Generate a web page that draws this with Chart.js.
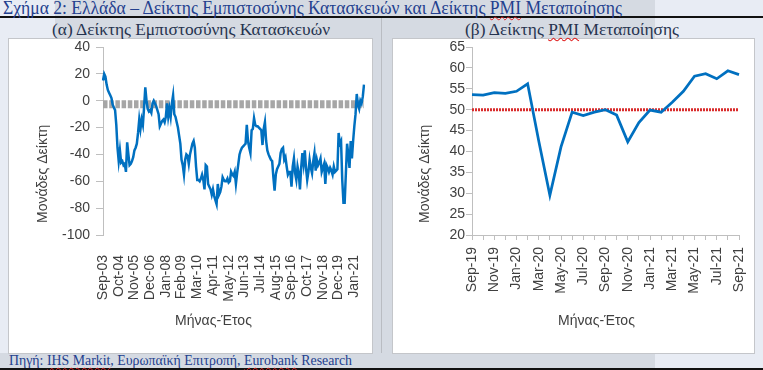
<!DOCTYPE html>
<html><head><meta charset="utf-8">
<script src="https://cdn.jsdelivr.net/npm/chart.js@4.4.1/dist/chart.umd.min.js"></script>
<style>
html,body{margin:0;padding:0;background:#e8ecf4;}
#page{position:relative;width:763px;height:370px;overflow:hidden;background:#e8ecf4;}
.abs{position:absolute;}
.txt{position:absolute;white-space:nowrap;transform-origin:0 0;font-family:'Liberation Serif','Times New Roman',serif;}
.sq{text-decoration:underline wavy #e02020;text-decoration-thickness:1px;text-underline-offset:2px;}
canvas{position:absolute;}
</style></head>
<body><div id="page">
  <div class="abs" style="left:55px;top:0;width:600px;height:38px;background:#d5dae2"></div>
  <div class="abs" style="left:0;top:353px;width:655px;height:15px;background:#d5dae2"></div>
  <div class="abs" style="left:0;top:16px;width:763px;height:2px;background:#111"></div>
  <div class="abs" style="left:0;top:368px;width:763px;height:2px;background:#111"></div>
  <div class="abs" style="left:372px;top:38px;width:20px;height:315px;background:#d5dae2"></div>
  <div class="abs" style="left:381px;top:18px;width:1px;height:335px;background:#b9bcc2"></div>
  <div class="abs" style="left:8px;top:38px;width:363px;height:314px;background:#fff;border:1px solid #c4c6ca"></div>
  <div class="abs" style="left:392px;top:38px;width:361px;height:314px;background:#fff;border:1px solid #c4c6ca"></div>

  <div class="txt" data-w="619" style="left:3px;top:-1px;font-size:18px;line-height:18px;color:#23408e">Σχήμα 2: Ελλάδα – Δείκτης Εμπιστοσύνης Κατασκευών και Δείκτης <span class="sq">PMI</span> Μεταποίησης</div>
  <div class="txt" data-w="278" style="left:52px;top:21px;font-size:17px;line-height:17px;color:#26334f">(α) Δείκτης Εμπιστοσύνης Κατασκευών</div>
  <div class="txt" data-w="214" style="left:465px;top:21px;font-size:17px;line-height:17px;color:#26334f">(β) Δείκτης <span class="sq">PMI</span> Μεταποίησης</div>
  <div class="txt" data-w="343" style="left:9px;top:353px;font-size:15px;line-height:15px;color:#23408e">Πηγή: <span class="sq">IHS Markit</span>, Ευρωπαϊκή Επιτροπή, <span class="sq">Eurobank</span> Research</div>

  <canvas id="c1" width="362" height="312" style="left:9px;top:40px"></canvas>
  <canvas id="c2" width="360" height="312" style="left:393px;top:40px"></canvas>
</div>
<script>
// ---------- data ----------
const MONTHS = ['Jan','Feb','Mar','Apr','May','Jun','Jul','Aug','Sep','Oct','Nov','Dec'];
function monthRange(y0, m0, y1, m1) {
  const out = [];
  let y = y0, m = m0;
  while (y < y1 || (y === y1 && m <= m1)) {
    out.push(MONTHS[m] + '-' + String(y % 100).padStart(2, '0'));
    m++; if (m > 11) { m = 0; y++; }
  }
  return out;
}

// (α) Construction confidence indicator, Sep-03 .. Sep-21 (monthly)
const consMonths = monthRange(2003, 8, 2021, 8);
const consValues = [
  15, 20, 18, 12, 8, 6, 4, 2, -3, -5,
  -7, -18, -35, -45, -37, -46, -45, -48, -47, -53,
  -31, -40, -48, -47, -45, -42, -37, -35, -32, -24,
  -14, -21, -14, -18, -5, 10, 0, -6, -8, -7,
  -9, -2, 0, -2, -4, -7, -10, -19, -17, -15,
  -14, -16, -12, -2, -12, -6, -12, -2, 4, -10,
  -12, -16, -20, -26, -32, -44, -48, -55, -44, -40,
  -41, -47, -40, -36, -32, -30, -35, -49, -59, -59,
  -60, -58, -55, -59, -66, -48, -49, -62, -64, -66,
  -70, -66, -71, -74, -77, -62, -70, -68, -64, -57,
  -59, -60, -60, -58, -61, -60, -53, -55, -56, -53,
  -62, -54, -47, -40, -37, -35, -34, -33, -32, -18,
  -30, -35, -39, -22, -21, -13, -18, -19, -19, -20,
  -21, -22, -33, -21, -16, -30, -37, -40, -42, -44,
  -45, -57, -67, -55, -51, -49, -47, -39, -36, -35,
  -44, -42, -49, -55, -53, -53, -64, -49, -43, -54,
  -59, -49, -54, -66, -50, -39, -47, -37, -50, -59,
  -53, -44, -50, -54, -45, -39, -52, -44, -48, -46,
  -43, -53, -50, -47, -62, -48, -50, -53, -50, -52,
  -55, -49, -53, -52, -51, -24, -32, -30, -59, -76,
  -76, -54, -32, -40, -50, -30, -43, -30, -19, -10,
  5, -3, -6, 0, -2, 3, 12
];
const consAverage = -2.6;
const consTickLabels = ['Sep-03','Oct-04','Nov-05','Dec-06','Jan-08','Feb-09','Mar-10','Apr-11','May-12',
  'Jun-13','Jul-14','Aug-15','Sep-16','Oct-17','Nov-18','Dec-19','Jan-21'];

// (β) Manufacturing PMI, Sep-19 .. Sep-21
const pmiMonths = monthRange(2019, 8, 2021, 8);
const pmiValues = [53.6, 53.5, 54.1, 53.9, 54.4, 56.2, 42.5, 29.5, 41.1, 49.4, 48.6, 49.4, 50.0,
  48.7, 42.3, 46.9, 49.9, 49.4, 51.8, 54.4, 58.0, 58.6, 57.4, 59.3, 58.4];
const pmiThreshold = 50;
const pmiTickLabels = ['Sep-19','Nov-19','Jan-20','Mar-20','May-20','Jul-20','Sep-20','Nov-20',
  'Jan-21','Mar-21','May-21','Jul-21','Sep-21'];

// ---------- text fitting ----------
document.querySelectorAll('[data-w]').forEach(el => {
  const w = el.getBoundingClientRect().width;
  el.style.transform = 'scaleX(' + (parseFloat(el.dataset.w) / w) + ')';
});

// ---------- charts ----------
const FONT = "'Liberation Sans', Arial, sans-serif";
const AXIS_GREY = '#bfbfbf';
const TEXT_GREY = '#404040';
const BLUE = '#0070c0';

function baseOptions(pad) {
  return {
    responsive: false, animation: false, devicePixelRatio: 1,
    layout: { padding: pad },
    plugins: { legend: { display: false }, tooltip: { enabled: false } }
  };
}
// shift where the axis title is drawn (Excel places it off-centre)
function shiftTitle(s, dx, dy) {
  if (s._titleShifted) return;
  const orig = s.drawTitle;
  s.drawTitle = function () {
    this.ctx.save(); this.ctx.translate(dx, dy); orig.call(this); this.ctx.restore();
  };
  s._titleShifted = true;
}
function fixY(width, dy) {
  return function (s) { s.width = width; s.paddingTop = 0; s.paddingBottom = 0; shiftTitle(s, 0, dy); };
}
function fixX(height, dx) {
  return function (s) { s.height = height; s.paddingLeft = 0; s.paddingRight = 0; shiftTitle(s, dx, 0); };
}

// left chart: canvas 362x312, plot area 94..355 x 7..195
const opt1 = baseOptions({ left: 20, right: 7, top: 7, bottom: 22 });
opt1.scales = {
  x: {
    type: 'category', offset: false,
    grid: { display: false }, border: { display: false },
    ticks: {
      autoSkip: false, minRotation: 90, maxRotation: 90, padding: 12,
      color: TEXT_GREY, font: { family: FONT, size: 14 },
      callback: function (v) { const l = this.getLabelForValue(v); return consTickLabels.includes(l) ? l : ''; }
    },
    title: { display: true, text: 'Μήνας-Έτος', color: TEXT_GREY, font: { family: FONT, size: 14 }, padding: { top: 18, bottom: 0 } },
    afterFit: fixX(95, -20)
  },
  y: {
    min: -100, max: 40,
    ticks: { stepSize: 20, padding: 6, color: TEXT_GREY, font: { family: FONT, size: 14 } },
    grid: { drawOnChartArea: false, drawTicks: true, tickLength: 7, color: AXIS_GREY },
    border: { display: true, color: AXIS_GREY, width: 1 },
    title: { display: true, text: 'Μονάδες Δείκτη', align: 'start', color: TEXT_GREY, font: { family: FONT, size: 14 }, padding: { top: 6, bottom: 10 } },
    afterFit: fixY(74, -12)
  }
};

new Chart(document.getElementById('c1'), {
  type: 'line',
  data: {
    labels: consMonths,
    datasets: [
      { data: consValues, borderColor: BLUE, borderWidth: 2.5, pointRadius: 0, tension: 0, order: 0 },
      { data: [{ x: consMonths[0], y: consAverage }, { x: consMonths[consMonths.length - 1], y: consAverage }],
        borderColor: '#a6a6a6', borderWidth: 8, borderDash: [4.5, 1.7], borderCapStyle: 'butt', pointRadius: 0, order: 1 }
    ]
  },
  options: opt1
});

// right chart: canvas 360x312, plot area 79..346 x 7..195
const opt2 = baseOptions({ left: 18, right: 14, top: 7, bottom: 22 });
opt2.scales = {
  x: {
    type: 'category', offset: false,
    grid: { display: true, drawOnChartArea: false, drawTicks: true, tickLength: 5, color: AXIS_GREY },
    border: { display: true, color: AXIS_GREY, width: 1 },
    ticks: {
      autoSkip: false, minRotation: 90, maxRotation: 90, padding: 7,
      color: TEXT_GREY, font: { family: FONT, size: 14 },
      callback: function (v) { const l = this.getLabelForValue(v); return pmiTickLabels.includes(l) ? l : ''; }
    },
    title: { display: true, text: 'Μήνας-Έτος', color: TEXT_GREY, font: { family: FONT, size: 14 }, padding: { top: 19, bottom: 0 } },
    afterFit: fixX(95, -9)
  },
  y: {
    min: 20, max: 65,
    ticks: { stepSize: 5, padding: 1, color: TEXT_GREY, font: { family: FONT, size: 14 } },
    grid: { drawOnChartArea: false, drawTicks: true, tickLength: 6, color: AXIS_GREY },
    border: { display: true, color: AXIS_GREY, width: 1 },
    title: { display: true, text: 'Μονάδες Δείκτη', align: 'start', color: TEXT_GREY, font: { family: FONT, size: 14 }, padding: { top: 6, bottom: 16 } },
    afterFit: fixY(61, -12)
  }
};

new Chart(document.getElementById('c2'), {
  type: 'line',
  data: {
    labels: pmiMonths,
    datasets: [
      { data: pmiValues, borderColor: BLUE, borderWidth: 2.75, pointRadius: 0, tension: 0, order: 0 },
      { data: [{ x: pmiMonths[0], y: pmiThreshold }, { x: pmiMonths[pmiMonths.length - 1], y: pmiThreshold }],
        borderColor: '#d92b2b', borderWidth: 3, borderDash: [2, 1], borderCapStyle: 'butt', pointRadius: 0, order: 1 }
    ]
  },
  options: opt2
});
</script>
</body></html>
